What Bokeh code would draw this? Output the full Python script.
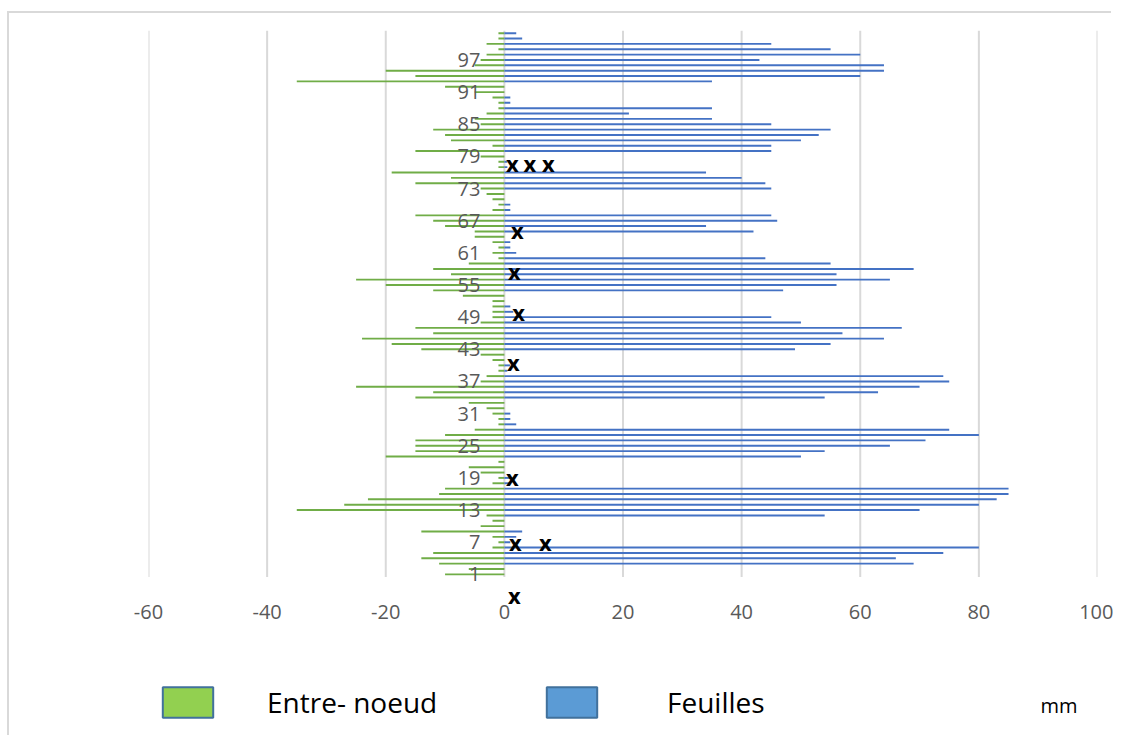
from bokeh.plotting import figure
from bokeh.layouts import column
from bokeh.models import (Range1d, FixedTicker, Legend, LegendItem, Label,
                          ColumnDataSource)
from bokeh.embed import file_html
from bokeh.resources import INLINE
from bokeh.core.properties import value

# ---------------- data ----------------
categories = list(range(1, 103))

entre_noeud = [
    -10, -6, -11, -14, -12, -2, -1, -2, -14, -4,
    -2, -3, -35, -27, -23, -11, -10, -2, -1, -4,
    -6, -1, -20, -15, -15, -15, -10, -5, -1, -1,
    -2, -3, -6, -15, -12, -25, -4, -3, -1, -1,
    -2, -4, -14, -19, -24, -12, -15, -4, -2, -2,
    -2, -2, -7, -12, -20, -25, -9, -12, -6, -1,
    -2, -1, -2, -5, -5, -10, -12, -15, -2, -1,
    -2, -3, -4, -15, -9, -19, -1, -1, -4, -15,
    -2, -9, -10, -12, -4, -5, -3, -1, -1, -2,
    -5, -10, -35, -15, -20, -5, -4, -3, -1, -3,
    -1, -1,
]

feuilles = [
    0, 0, 69, 66, 74, 80, 1, 2, 3, 0,
    0, 54, 70, 80, 83, 85, 85, 1, 1, 0,
    0, 0, 50, 54, 65, 71, 80, 75, 2, 1,
    1, 0, 0, 54, 63, 70, 75, 74, 0.5, 1,
    0, 0, 49, 55, 64, 57, 67, 50, 45, 1.5,
    1, 0, 0, 47, 56, 65, 56, 69, 55, 44,
    2, 1, 1, 0, 42, 34, 46, 45, 1, 1,
    0, 0, 45, 44, 40, 34, 0.5, 0.5, 0, 45,
    45, 50, 53, 55, 45, 35, 21, 35, 1, 1,
    0, 0, 35, 60, 64, 64, 43, 60, 55, 45,
    3, 2,
]

x_ticks = [-60, -40, -20, 0, 20, 40, 60, 80, 100]
x_tick_labels = [str(t) for t in x_ticks]
category_ticks = list(range(1, 103, 6))
category_labels = [str(c) for c in category_ticks]

# "x" marks written on the chart
mark_x = [1.35, 4.3, 7.4, 2.2, 1.7, 2.4, 1.5, 1.35, 1.85, 6.9, 1.7]
mark_y = [77.8, 77.8, 77.8, 65.3, 57.6, 50.0, 40.7, 19.2, 7.0, 7.0, -2.8]
mark_text = ["x"] * len(mark_x)

series_names = ["Entre- noeud", "Feuilles"]
unit_text = "mm"

FONT = "Open Sans"
CAT_LO, CAT_HI = 0.5, 102.5
NAN = float("nan")

# ---------------- main figure ----------------
p = figure(width=1104, height=640,
           x_range=Range1d(-60, 100), y_range=Range1d(-5.0, CAT_HI),
           output_backend="svg", toolbar_location=None,
           min_border_left=139, min_border_right=16,
           min_border_top=17, min_border_bottom=47)
p.outline_line_color = None
p.background_fill_color = "white"
p.border_fill_color = "white"

p.yaxis.visible = False
p.ygrid.visible = False
p.xgrid.visible = False

p.xaxis.ticker = FixedTicker(ticks=x_ticks)
p.xaxis.major_label_overrides = dict(zip(x_ticks, x_tick_labels))
p.xaxis.axis_line_color = None
p.xaxis.major_tick_line_color = None
p.xaxis.minor_tick_line_color = None
p.xaxis.major_label_text_font = FONT
p.xaxis.major_label_text_font_size = "20px"
p.xaxis.major_label_text_color = "#595959"
p.xaxis.major_label_standoff = -8

# value gridlines spanning the category band only
p.segment(x0=x_ticks, y0=[CAT_LO] * len(x_ticks),
          x1=x_ticks, y1=[CAT_HI] * len(x_ticks),
          line_color="#d9d9d9", line_width=2)

src = ColumnDataSource(dict(cat=categories, en=entre_noeud, fe=feuilles,
                            zero=[0] * len(categories)))

p.hbar(y="cat", left="en", right="zero", height=0.36, source=src,
       fill_color="#70AD47", line_color=None)
p.hbar(y="cat", left="zero", right="fe", height=0.36, source=src,
       fill_color="#4472C4", line_color=None)

# category labels at the zero line
p.text(x=[0] * len(category_ticks), y=category_ticks, text=category_labels,
       text_align="right", text_baseline="middle", x_offset=-24,
       text_font=value(FONT), text_font_size="20px", text_color="#595959")

# x marks
p.text(x=mark_x, y=mark_y, text=mark_text,
       text_align="center", text_baseline="middle",
       text_font=value(FONT), text_font_size="22px",
       text_font_style="bold", text_color="black")

# ---------------- legend strip ----------------
q = figure(width=1104, height=84,
           x_range=Range1d(0, 1), y_range=Range1d(0, 1),
           output_backend="svg", toolbar_location=None,
           min_border_left=139, min_border_right=16,
           min_border_top=0, min_border_bottom=0)
q.axis.visible = False
q.grid.visible = False
q.outline_line_color = None
q.background_fill_color = "white"
q.border_fill_color = "white"

# legend proxies (NaN data: nothing drawn, only the legend swatch)
proxy = ColumnDataSource(dict(y=[NAN], l=[NAN], r=[NAN]))
g_proxy = q.hbar(y="y", left="l", right="r", height=1, source=proxy,
                 fill_color="#92D050", line_color="#41719C", line_width=2)
b_proxy = q.hbar(y="y", left="l", right="r", height=1, source=proxy,
                 fill_color="#5B9BD5", line_color="#41719C", line_width=2)

for rend, name, loc, standoff in [(g_proxy, series_names[0], (8, 16), 48),
                                  (b_proxy, series_names[1], (392, 16), 64)]:
    lg = Legend(items=[LegendItem(label=name, renderers=[rend])],
                location=loc, orientation="horizontal",
                glyph_width=63, glyph_height=38, label_standoff=standoff,
                padding=0, margin=0, border_line_color=None,
                background_fill_alpha=0,
                label_text_font=FONT, label_text_font_size="28px",
                label_text_color="black")
    q.add_layout(lg)

q.add_layout(Label(x=892, y=32, x_units="screen", y_units="screen",
                   text=unit_text, text_baseline="middle",
                   text_font=FONT, text_font_size="20px", text_color="black"))

layout = column(p, q, margin=(13, 0, 0, 9),
                styles={"box-shadow": "-2px -2px 0 0 #d9d9d9"})

open("out.html", "w").write(file_html(layout, INLINE))
